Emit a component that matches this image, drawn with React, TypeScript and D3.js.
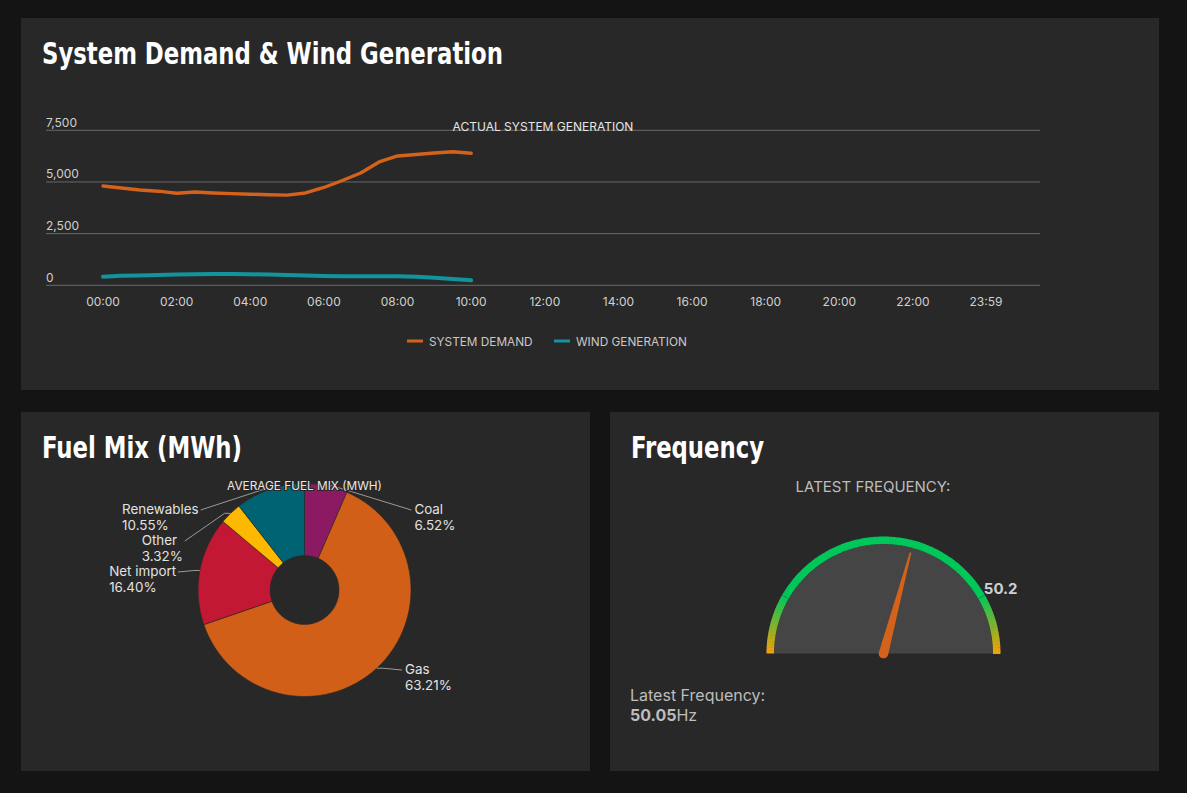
import * as d3 from 'd3'

// half-hourly readings, 00:00 to 10:00
const sampleTimes = [
  '00:00', '00:30', '01:00', '01:30', '02:00', '02:30', '03:00', '03:30', '04:00', '04:30', '05:00',
  '05:30', '06:00', '06:30', '07:00', '07:30', '08:00', '08:30', '09:00', '09:30', '10:00',
]
const systemDemand = [
  4806, 4709, 4612, 4554, 4453, 4515, 4467, 4438, 4409, 4380, 4361,
  4467, 4733, 5072, 5435, 5968, 6258, 6326, 6403, 6461, 6389,
]
const windGeneration = [
  416, 460, 479, 499, 528, 537, 547, 547, 532, 518, 499,
  469, 455, 440, 436, 436, 436, 411, 363, 305, 242,
]
const xTickLabels = ['00:00', '02:00', '04:00', '06:00', '08:00', '10:00', '12:00', '14:00', '16:00', '18:00', '20:00', '22:00', '23:59']
const yTickValues = [0, 2500, 5000, 7500]

const fuelNames = ['Coal', 'Gas', 'Net import', 'Other', 'Renewables']
const fuelShares = [6.52, 63.21, 16.4, 3.32, 10.55]
const fuelColors = ['#8c1a62', '#d25f17', '#c31834', '#fdb900', '#006373']

const latestFrequency = 50.05
const gaugeMin = 49.7
const gaugeMax = 50.3
const gaugeTicks = [49.8, 50.2]

const BG = '#141414'
const PANEL = '#282828'
const TITLE_FONT = '"Liberation Sans Narrow", "DejaVu Sans Condensed", "Roboto Condensed", Roboto, sans-serif'
const FONT = 'Inter, "Noto Sans", sans-serif'
const ORANGE = '#d4621a'
const TEAL = '#12949c'

function Panel({x, y, w, h, title, titleWidth}: {x: number, y: number, w: number, h: number, title: string, titleWidth: number}) {
  return (
    <g>
      <rect x={x} y={y} width={w} height={h} fill={PANEL}/>
      <text x={x + 21} y={y + 46} fill="#fff" fontFamily={TITLE_FONT} fontWeight={700} fontSize={31}
            textLength={titleWidth} lengthAdjust="spacingAndGlyphs">{title}</text>
    </g>
  )
}

function DemandChart() {
  const parse = d3.timeParse('%H:%M')
  const x = d3.scaleTime([parse('00:00')!, parse('23:59')!], [103, 986])
  const y = d3.scaleLinear([0, 7500], [285.3, 130.3])
  const gridLeft = 46
  const gridRight = 1040
  const line = d3.line<number>()
    .x((_, i) => x(parse(sampleTimes[i])!))
    .y(d => y(d))
  return (
    <g>
      {yTickValues.map(v => (
        <g key={v}>
          <line x1={gridLeft} x2={gridRight} y1={y(v)} y2={y(v)} stroke="#6a6a6a" strokeWidth={1}/>
          <text x={gridLeft} y={y(v) - 3.5} fill="#d0d0d0" fontFamily={FONT} fontSize={12}>{d3.format(',')(v)}</text>
        </g>
      ))}
      {xTickLabels.map(t => (
        <text key={t} x={x(parse(t)!)} y={306} textAnchor="middle" fill="#d0d0d0" fontFamily={FONT} fontSize={12}>{t}</text>
      ))}
      <text x={(gridLeft + gridRight) / 2} y={131} textAnchor="middle" fill="#e6e6e6" fontFamily={FONT} fontSize={12}>ACTUAL SYSTEM GENERATION</text>
      <path d={line(systemDemand)!} fill="none" stroke={ORANGE} strokeWidth={3.4} strokeLinejoin="round" strokeLinecap="round"/>
      <path d={line(windGeneration)!} fill="none" stroke={TEAL} strokeWidth={4} strokeLinejoin="round" strokeLinecap="round"/>
      <g fontFamily={FONT} fontSize={11.8} fill="#c8c8c8">
        <line x1={407} x2={423} y1={341} y2={341} stroke={ORANGE} strokeWidth={3}/>
        <text x={429} y={345.5}>SYSTEM DEMAND</text>
        <line x1={554} x2={570} y1={341} y2={341} stroke={TEAL} strokeWidth={3}/>
        <text x={576} y={345.5}>WIND GENERATION</text>
      </g>
    </g>
  )
}

let measureCtx: CanvasRenderingContext2D | null = null
function measure(s: string, size: number) {
  if (!measureCtx) measureCtx = document.createElement('canvas').getContext('2d')
  measureCtx!.font = `${size}px Inter`
  return measureCtx!.measureText(s).width
}

// two-line label block, always left aligned; on the left side its right edge sits at x
function FuelLabel({x, y, right, name, share}: {x: number, y: number, right: boolean, name: string, share: number}) {
  const size = 13.4
  const pct = d3.format('.2f')(share) + '%'
  const width = Math.max(measure(name, size), measure(pct, size))
  const left = right ? x : x - width
  return (
    <g fill="#e2e2e2" fontFamily={FONT} fontSize={size}>
      <text x={left} y={y - 2.5}>{name}</text>
      <text x={left} y={y + 13.5}>{pct}</text>
    </g>
  )
}

function FuelPie() {
  const cx = 304.5
  const cy = 590
  const r = 106.5
  const labelR = 130
  const pie = d3.pie<number>().sort(null).value(d => d)
  const arcs = pie(fuelShares)
  const arc = d3.arc<d3.PieArcDatum<number>>().innerRadius(34.5).outerRadius(r)

  // label placement: natural height from the slice angle, clamped into the plot, then spread apart
  const minY = cy - 74
  const maxY = cy + 86
  const gap = 31
  const labels = arcs.map((a, i) => {
    const mid = (a.startAngle + a.endAngle) / 2
    const natural = cy - Math.cos(mid) * labelR
    return {i, mid, right: Math.sin(mid) >= 0, natural, y: Math.max(minY, Math.min(maxY, natural))}
  })
  for (const side of [true, false]) {
    const group = labels.filter(l => l.right === side).sort((a, b) => a.natural - b.natural)
    for (let k = 1; k < group.length; k++) {
      if (group[k].y < group[k - 1].y + gap) group[k].y = group[k - 1].y + gap
    }
  }
  return (
    <g>
      <g transform={`translate(${cx},${cy})`}>
        {arcs.map((a, i) => (
          <path key={i} d={arc(a)!} fill={fuelColors[i]} stroke={PANEL} strokeWidth={0.6}/>
        ))}
      </g>
      {labels.map(l => {
        const dy = l.y - cy
        const dx = Math.sqrt(Math.max(0, labelR * labelR - dy * dy))
        const lx = l.right ? cx + dx : cx - dx
        const ex = cx + Math.sin(l.mid) * r
        const ey = cy - Math.cos(l.mid) * r
        const tx = l.right ? lx + 3 : lx + 1
        return (
          <g key={l.i}>
            <polyline points={`${ex},${ey} ${ex + (l.right ? 6 : -6)},${ey} ${l.right ? lx : lx + 3},${l.y - 6}`}
                      fill="none" stroke="#9a9a9a" strokeWidth={1}/>
            <FuelLabel x={tx} y={l.y} right={l.right} name={fuelNames[l.i]} share={fuelShares[l.i]}/>
          </g>
        )
      })}
      <text x={cx} y={490} textAnchor="middle" fill="#e6e6e6" fontFamily={FONT} fontSize={11.8}
            stroke="#282828" strokeWidth={2} paintOrder="stroke">AVERAGE FUEL MIX (MWH)</text>
    </g>
  )
}

function FrequencyGauge() {
  const cx = 883.5
  const cy = 653.5
  const outer = 117
  const inner = 109.5
  const angle = d3.scaleLinear([gaugeMin, gaugeMax], [-Math.PI / 2, Math.PI / 2])
  const green = '#00c85a'
  const edge = '#f6a00a'
  const colorAt = (v: number) => {
    const a = Math.abs(angle(v)) * 180 / Math.PI
    if (a <= 60) return green
    return d3.interpolateRgb(green, edge)((a - 60) / 30)
  }
  const steps = d3.range(0, 120)
  const step = (gaugeMax - gaugeMin) / steps.length
  const band = d3.arc<{s: number, e: number}>().innerRadius(inner).outerRadius(outer)
    .startAngle(d => d.s).endAngle(d => d.e)
  const bg = d3.arc()({innerRadius: 0, outerRadius: inner, startAngle: -Math.PI / 2, endAngle: Math.PI / 2})!
  const needleAngle = angle(latestFrequency) * 180 / Math.PI
  const labelAngle = angle(gaugeTicks[1])
  return (
    <g>
      <text x={873} y={492} textAnchor="middle" fill="#bdbdbd" fontFamily={FONT} fontSize={15}>LATEST FREQUENCY:</text>
      <g transform={`translate(${cx},${cy})`}>
        <path d={bg} fill="#454545"/>
        {steps.map(k => {
          const v0 = gaugeMin + k * step
          return <path key={k} d={band({s: angle(v0), e: angle(v0 + step) + 0.004})!} fill={colorAt(v0 + step / 2)}/>
        })}
        {gaugeTicks.map(t => {
          const a = angle(t)
          return <line key={t} x1={Math.sin(a) * inner} y1={-Math.cos(a) * inner} x2={Math.sin(a) * outer} y2={-Math.cos(a) * outer}
                       stroke="#2e7d46" strokeWidth={1}/>
        })}
        <g transform={`rotate(${needleAngle})`}>
          <path d="M -4.8 0 L -0.8 -104.5 L 0.8 -104.5 L 4.8 0 A 4.8 4.8 0 0 1 -4.8 0 Z" fill={ORANGE}/>
        </g>
        <text x={Math.sin(labelAngle) * outer - 1} y={-Math.cos(labelAngle) * outer - 1.5} fill="#cfcfcf"
              fontFamily={FONT} fontWeight={700} fontSize={15}>{d3.format('.1f')(gaugeTicks[1])}</text>
      </g>
      <text x={630} y={701} fill="#bdbdbd" fontFamily={FONT} fontSize={16}>Latest Frequency:</text>
      <text x={630} y={721} fill="#bdbdbd" fontFamily={FONT} fontSize={16}>
        <tspan fontWeight={700}>{d3.format('.2f')(latestFrequency)}</tspan>Hz
      </text>
    </g>
  )
}

export default function App() {
  return (
    <div style={{position: 'fixed', left: 0, top: 0, width: 1187, height: 793, background: BG}}>
      <svg width={1187} height={793} style={{display: 'block'}}>
        <rect width={1187} height={793} fill={BG}/>
        <Panel x={21} y={18} w={1138} h={372} title="System Demand & Wind Generation" titleWidth={461}/>
        <Panel x={21} y={412} w={569} h={359} title="Fuel Mix (MWh)" titleWidth={200}/>
        <Panel x={610} y={412} w={549} h={359} title="Frequency" titleWidth={133}/>
        <DemandChart/>
        <FuelPie/>
        <FrequencyGauge/>
      </svg>
    </div>
  )
}
